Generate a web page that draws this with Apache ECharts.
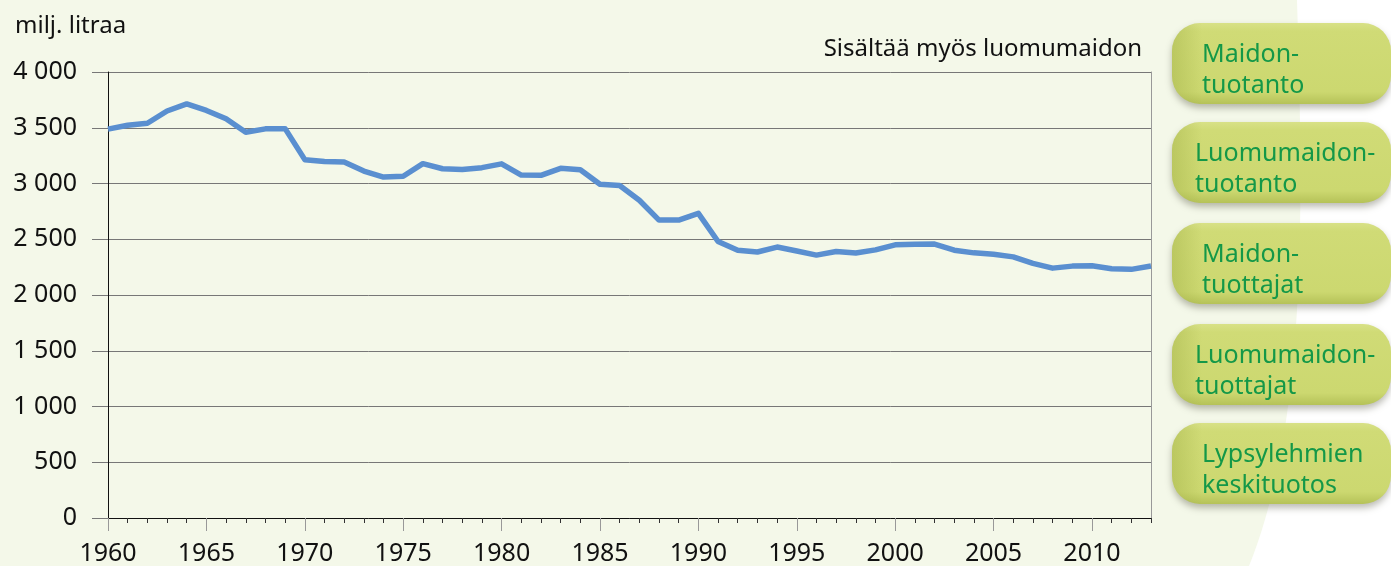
<!DOCTYPE html>
<html>
<head>
<meta charset="utf-8">
<script src="https://cdn.jsdelivr.net/npm/echarts@6/dist/echarts.min.js"></script>
<style>
html,body{margin:0;padding:0;background:#f4f8e9;}
#chart{width:1391px;height:566px;}
</style>
</head>
<body>
<div id="chart"></div>
<script>
const years = [];
for (let y = 1960; y <= 2013; y++) years.push(String(y));
const milkProduction = [
  3488, 3522, 3540, 3650, 3714, 3655, 3580, 3460, 3490, 3492,
  3214, 3198, 3192, 3112, 3058, 3065, 3178, 3132, 3125, 3142,
  3176, 3076, 3073, 3136, 3124, 2993, 2982, 2850, 2672, 2672,
  2732, 2480, 2402, 2386, 2430, 2394, 2358, 2390, 2376, 2405,
  2450, 2456, 2457, 2402, 2378, 2366, 2342, 2284, 2241, 2259,
  2262, 2235, 2230, 2260
];
const unitLabel = 'milj. litraa';
const noteLabel = 'Sisältää myös luomumaidon';
const buttonLabels = [
  'Maidon-\ntuotanto',
  'Luomumaidon-\ntuotanto',
  'Maidon-\ntuottajat',
  'Luomumaidon-\ntuottajat',
  'Lypsylehmien\nkeskituotos'
];
const buttonTops = [23, 122, 223, 324, 423];
const buttonTextX = [1202, 1195, 1202, 1195, 1202];

const FONT = '"Noto Sans", "Open Sans", sans-serif';

// decorative white background region on the right (cubic bezier edge)
function bezierPts(p0, p1, p2, p3, n) {
  const pts = [];
  for (let i = 0; i <= n; i++) {
    const t = i / n, u = 1 - t;
    pts.push([
      u*u*u*p0[0] + 3*u*u*t*p1[0] + 3*u*t*t*p2[0] + t*t*t*p3[0],
      u*u*u*p0[1] + 3*u*u*t*p1[1] + 3*u*t*t*p2[1] + t*t*t*p3[1]
    ]);
  }
  return pts;
}
const edge = bezierPts([1297, 0], [1303, 200], [1308, 420], [1249, 566], 40);
edge.push([1391, 566], [1391, 0]);

const graphics = [
  { type: 'polygon', shape: { points: edge }, style: { fill: '#ffffff' }, z: 0 }
];
buttonLabels.forEach((t, i) => {
  const top = buttonTops[i];
  graphics.push({
    type: 'rect',
    shape: { x: 1172, y: top, width: 219, height: 81, r: 28 },
    style: {
      fill: {
        type: 'linear', x: 0, y: 0, x2: 0, y2: 1,
        colorStops: [
          { offset: 0, color: '#d8e187' },
          { offset: 0.1, color: '#d0db76' },
          { offset: 0.85, color: '#ccd870' },
          { offset: 1, color: '#b5c258' }
        ]
      },
      shadowBlur: 7,
      shadowOffsetX: 0,
      shadowOffsetY: 4,
      shadowColor: 'rgba(60,60,40,0.35)'
    },
    z: 5
  });
  graphics.push({
    type: 'rect',
    shape: { x: 1172, y: top, width: 30, height: 81, r: [28, 0, 0, 28] },
    style: {
      fill: {
        type: 'linear', x: 0, y: 0, x2: 1, y2: 0,
        colorStops: [
          { offset: 0, color: 'rgba(150,165,60,0.35)' },
          { offset: 1, color: 'rgba(150,165,60,0)' }
        ]
      }
    },
    z: 5
  });
  graphics.push({
    type: 'text',
    x: buttonTextX[i],
    y: top + 47,
    style: {
      text: t,
      fill: '#149848',
      font: '25px ' + FONT,
      lineHeight: 31,
      verticalAlign: 'middle',
      align: 'left'
    },
    z: 6
  });
});

const chart = echarts.init(document.getElementById('chart'), null, { renderer: 'canvas' });
chart.setOption({
  backgroundColor: '#f4f8e9',
  animation: false,
  textStyle: { fontFamily: FONT },
  title: [
    {
      text: unitLabel,
      left: 10, top: 9,
      textStyle: { fontSize: 24, fontWeight: 'normal', color: '#111', fontFamily: FONT }
    },
    {
      text: noteLabel,
      right: 244, top: 32,
      textStyle: { fontSize: 24, fontWeight: 'normal', color: '#111', fontFamily: FONT }
    }
  ],
  grid: { left: 108, right: 240, top: 72, bottom: 46, containLabel: false },
  xAxis: [
    {
      type: 'category', data: years, boundaryGap: false,
      axisLine: { show: true, lineStyle: { color: '#111', width: 1 } },
      axisTick: { show: true, interval: 0, length: 5, lineStyle: { color: '#333' } },
      axisLabel: { show: false },
      splitLine: { show: false }
    },
    {
      type: 'category', data: years, boundaryGap: false, position: 'bottom',
      axisLine: { show: false },
      axisTick: { show: true, interval: 4, length: 13, lineStyle: { color: '#999' } },
      axisLabel: { show: true, interval: 4, fontSize: 25, color: '#111', margin: 23, fontFamily: FONT },
      splitLine: { show: false }
    }
  ],
  yAxis: [
    {
      type: 'value', min: 0, max: 4000, interval: 500,
      axisLine: { show: true, lineStyle: { color: '#111', width: 1 } },
      axisTick: { show: true, length: 16, lineStyle: { color: '#777' } },
      axisLabel: {
        fontSize: 25, color: '#111', margin: 31, fontFamily: FONT,
        formatter: v => String(v).replace(/\B(?=(\d{3})+(?!\d))/g, ' ')
      },
      splitLine: { show: true, lineStyle: { color: '#777', width: 1 } }
    },
    {
      type: 'value', min: 0, max: 4000, interval: 500, position: 'right',
      axisLine: { show: true, lineStyle: { color: '#999', width: 1 } },
      axisTick: { show: false },
      axisLabel: { show: false },
      splitLine: { show: false }
    }
  ],
  series: [
    {
      type: 'line',
      xAxisIndex: 0, yAxisIndex: 0,
      data: milkProduction,
      showSymbol: false,
      lineStyle: { color: '#5a8fd0', width: 5.5, join: 'round' },
      z: 3
    }
  ],
  graphic: graphics
});
</script>
</body>
</html>
